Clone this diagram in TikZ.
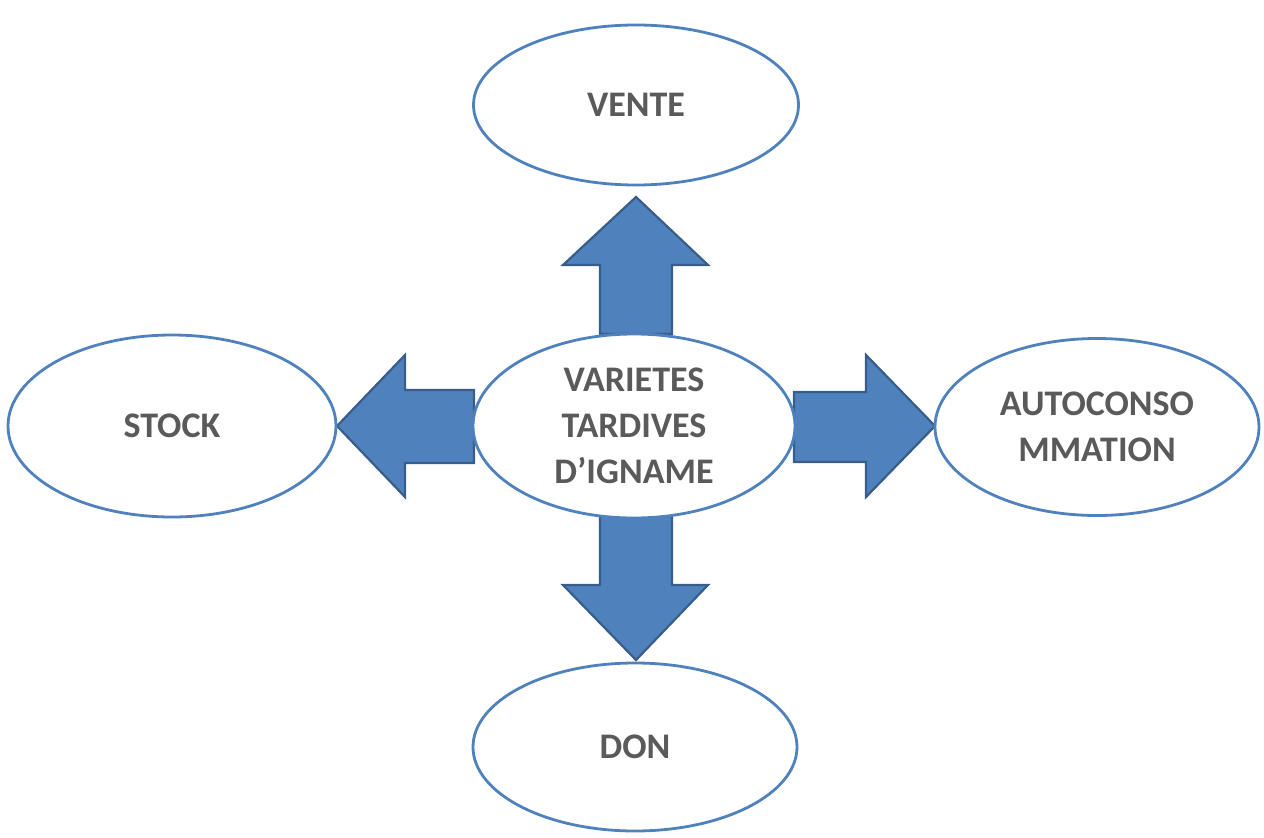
\documentclass[tikz,border=0pt]{standalone}
\usepackage{fontspec}
\setmainfont{Carlito}
\usetikzlibrary{shapes.geometric}
\definecolor{ebord}{HTML}{4F81BD}
\definecolor{afill}{HTML}{4F81BD}
\definecolor{aline}{HTML}{385D8A}
\definecolor{txt}{HTML}{5A5A5A}
\begin{document}
\begin{tikzpicture}[x=1pt,y=-1pt,
  ell/.style={ellipse, draw=ebord, line width=2.8pt, fill=white, inner sep=0pt,
    font=\fontsize{36}{46}\selectfont\bfseries, text=txt, align=center},
  barrow/.style={fill=afill, draw=aline, line width=2.2pt, line join=miter}]
\useasboundingbox (0,0) rectangle (1264,838);
% block arrows
\draw[barrow] (600,334) -- (600,265) -- (563,265) -- (636,197) -- (708,265) -- (672,265) -- (672,334) -- cycle;
\draw[barrow] (600,516) -- (600,585) -- (563,585) -- (636,660) -- (708,585) -- (672,585) -- (672,516) -- cycle;
\draw[barrow] (474,390) -- (405,390) -- (405,355) -- (337,426) -- (405,497) -- (405,463) -- (474,463) -- cycle;
\draw[barrow] (794,392) -- (866,392) -- (866,355) -- (935,426) -- (866,497) -- (866,462) -- (794,462) -- cycle;
% ellipses
\node[ell, minimum width=325pt, minimum height=160pt] (vente) at (636,105) {VENTE};
\node[ell, minimum width=328pt, minimum height=182pt] (stock) at (172,426) {STOCK};
\node[ell, minimum width=322pt, minimum height=184pt] (centre) at (634,426) {VARIETES\\TARDIVES\\D’IGNAME};
\node[ell, minimum width=324pt, minimum height=177pt] (auto) at (1097,427) {AUTOCONSO\\MMATION};
\node[ell, minimum width=324pt, minimum height=168pt] (don) at (635,747) {DON};
\end{tikzpicture}
\end{document}
